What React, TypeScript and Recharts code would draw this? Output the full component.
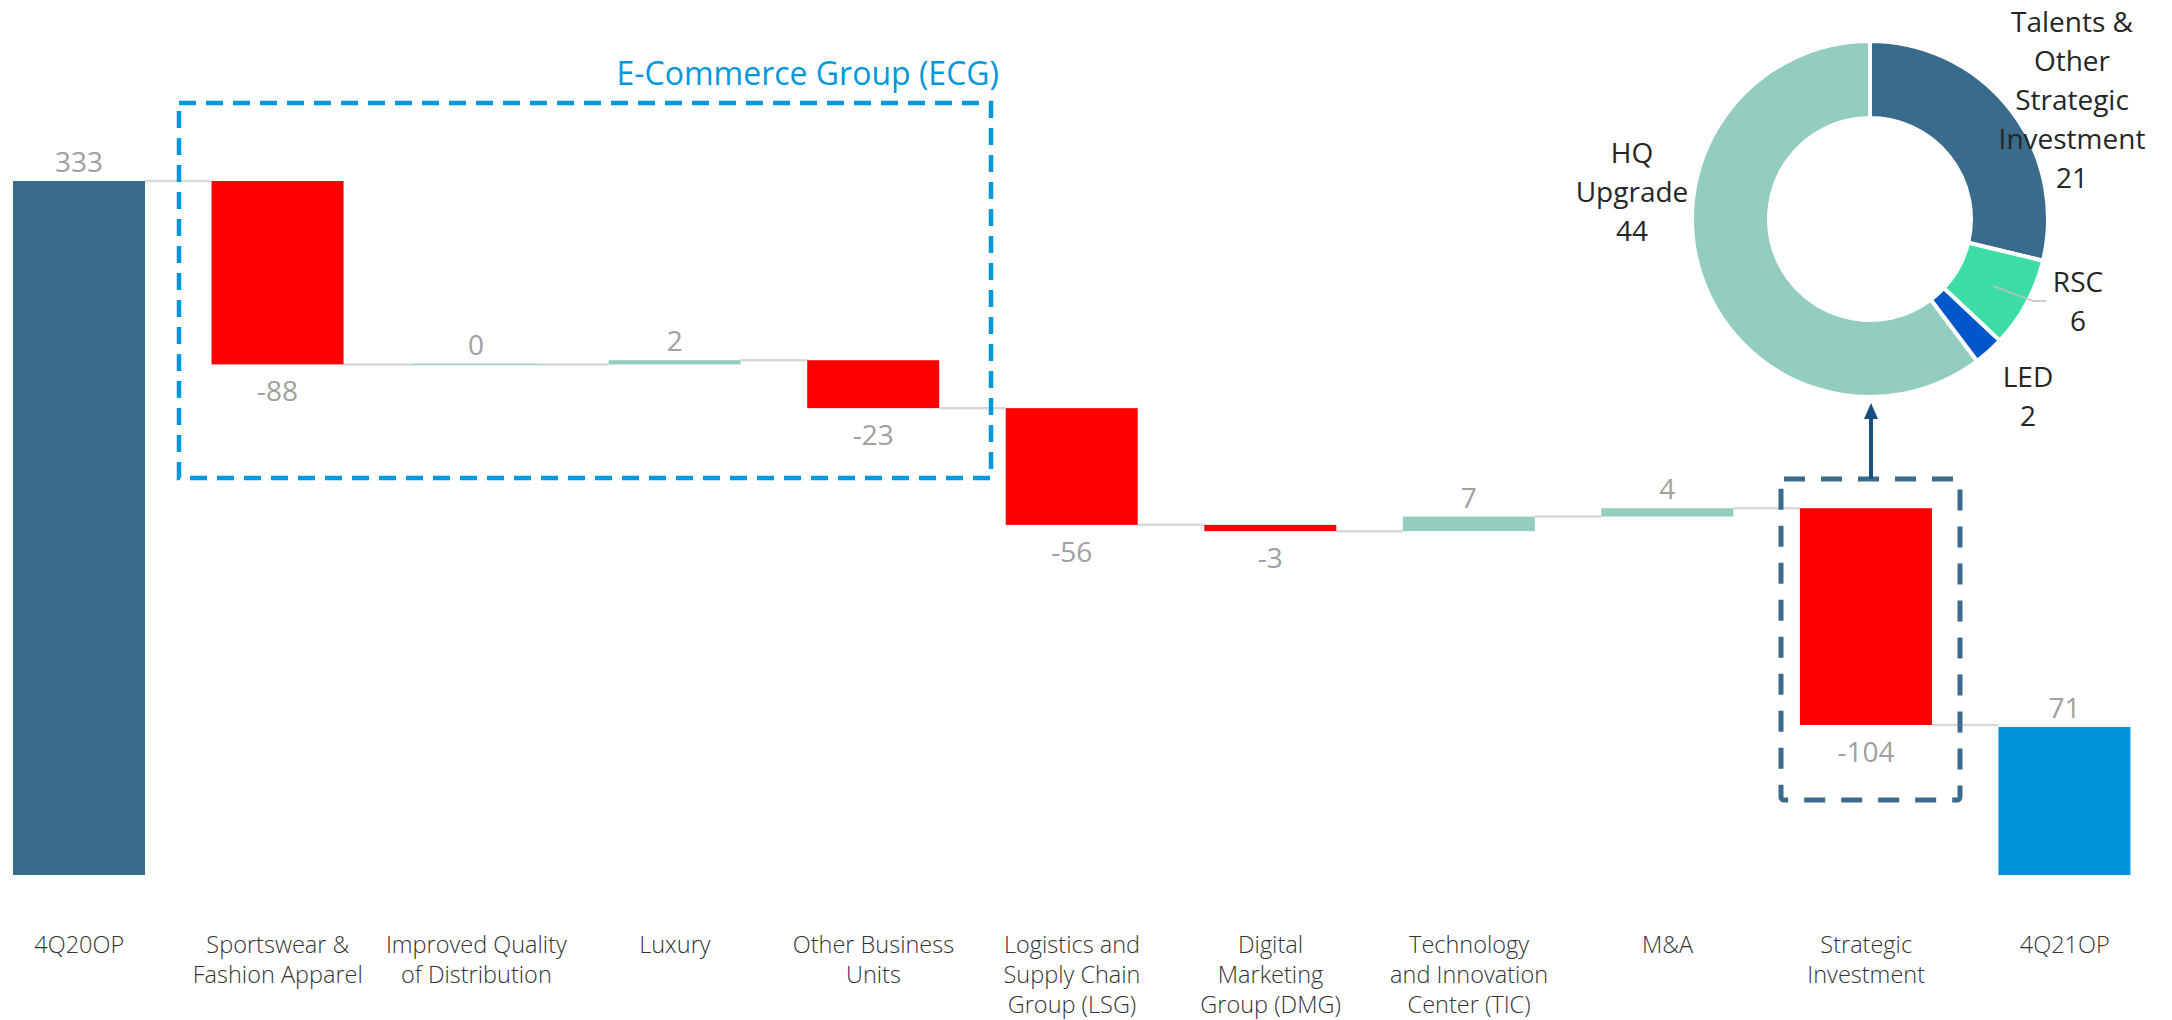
import React from "react";
import { ComposedChart, Bar, XAxis, YAxis, PieChart, Pie, Cell } from "recharts";

// ---------- data ----------
const categories = [
  "4Q20OP",
  "Sportswear &\nFashion Apparel",
  "Improved Quality\nof Distribution",
  "Luxury",
  "Other Business\nUnits",
  "Logistics and\nSupply Chain\nGroup (LSG)",
  "Digital\nMarketing\nGroup (DMG)",
  "Technology\nand Innovation\nCenter (TIC)",
  "M&A",
  "Strategic\nInvestment",
  "4Q21OP",
];
const values = [333, -88, 0, 2, -23, -56, -3, 7, 4, -104, 71];
const kinds = ["total", "delta", "delta", "delta", "delta", "delta", "delta", "delta", "delta", "delta", "total"];

const pieNames = ["Talents &\nOther\nStrategic\nInvestment", "RSC", "LED", "HQ\nUpgrade"];
const pieValues = [21, 6, 2, 44];

const ecgTitle = "E-Commerce Group (ECG)";

// ---------- styles / layout ----------
const FONT = "'Open Sans', 'Noto Sans', sans-serif";
const C_START = "#386B8C";
const C_END = "#0093D7";
const C_NEG = "#FF0000";
const C_POS = "#93CDBF";
const C_CONN = "#D9D9D9";
const C_VALUE = "#A0A0A0";
const pieColors = ["#386B8C", "#3DDDA6", "#0057C9", "#93CDBF"];

const CHART_W = 2184;
const CHART_H = 1020;
const BAR_SIZE = 132;
const BAND = CHART_W / categories.length;

// label anchor offsets from the donut centre [dx, first-baseline dy]
const pieLabelPos = [
  [202, -187],
  [208, 73],
  [158, 168],
  [-238, -56],
];

// ---------- derived table ----------
const waterfall = (() => {
  let running = 0;
  return categories.map((name, i) => {
    const v = values[i];
    let low: number, high: number;
    if (kinds[i] === "total") {
      low = 0;
      high = v;
      running = v;
    } else {
      const start = running;
      const end = running + v;
      low = Math.min(start, end);
      high = Math.max(start, end);
      running = end;
    }
    return { name, range: [low, high] };
  });
})();

const pieData = pieNames.map((name, i) => ({ name, value: pieValues[i] }));

// ---------- renderers ----------
function WaterfallShape(props: any) {
  const { x, y, width, height, index } = props;
  const v = values[index];
  const kind = kinds[index];
  const top = Math.min(y, y + height);
  const h = Math.abs(height);
  const fill = kind === "total" ? (index === 0 ? C_START : C_END) : v < 0 ? C_NEG : C_POS;
  const drawH = Math.max(h, 1.5);
  const drawY = h < 1.5 ? top - (1.5 - h) / 2 : top;
  const negative = kind === "delta" && v < 0;
  const endY = negative ? top + h : top;
  const labelY = negative ? top + h + 37 : top - 9;
  return (
    <g>
      {index < categories.length - 1 && (
        <line
          x1={x + width}
          x2={x + width + (BAND - width)}
          y1={endY}
          y2={endY}
          stroke={C_CONN}
          strokeWidth={2.5}
        />
      )}
      <rect x={x} y={drawY} width={width} height={drawH} fill={fill} />
      <text
        x={x + width / 2}
        y={labelY}
        textAnchor="middle"
        fontFamily={FONT}
        fontSize={28}
        fill={C_VALUE}
      >
        {String(v)}
      </text>
    </g>
  );
}

function CategoryTick(props: any) {
  const { x, y, payload } = props;
  const lines = String(payload.value).split("\n");
  return (
    <text
      x={x}
      y={y + 78}
      textAnchor="middle"
      fontFamily={FONT}
      fontSize={23.5}
      fontWeight={300}
      fill="#333333"
    >
      {lines.map((l, k) => (
        <tspan key={k} x={x} dy={k === 0 ? 0 : 30}>
          {l}
        </tspan>
      ))}
    </text>
  );
}

function PieLabel(props: any) {
  const { cx, cy, index } = props;
  const [dx, dy] = pieLabelPos[index];
  const lines = [...pieNames[index].split("\n"), String(pieValues[index])];
  const lx = cx + dx;
  return (
    <g>
      {index === 1 && (
        <polyline
          points={`${cx + 123},${cy + 67} ${cx + 163},${cy + 82} ${cx + 176},${cy + 82}`}
          fill="none"
          stroke="#BFBFBF"
          strokeWidth={1.5}
        />
      )}
      <text x={lx} y={cy + dy} textAnchor="middle" fontFamily={FONT} fontSize={28} fill="#262626">
        {lines.map((l, k) => (
          <tspan key={k} x={lx} dy={k === 0 ? 0 : 39}>
            {l}
          </tspan>
        ))}
      </text>
    </g>
  );
}

export default function App() {
  return (
    <div
      style={{
        position: "absolute",
        left: 0,
        top: 0,
        width: 2172,
        height: 1020,
        overflow: "hidden",
        background: "#ffffff",
        fontFamily: FONT,
      }}
    >
      <div style={{ position: "absolute", left: -20, top: 0 }}>
        <ComposedChart
          width={CHART_W}
          height={CHART_H}
          data={waterfall}
          margin={{ top: 181, right: 0, bottom: 0, left: 0 }}
        >
          <YAxis hide domain={[0, 333]} />
          <XAxis
            dataKey="name"
            interval={0}
            axisLine={false}
            tickLine={false}
            tickSize={0}
            tickMargin={0}
            height={145}
            tick={<CategoryTick />}
          />
          <Bar dataKey="range" barSize={BAR_SIZE} shape={<WaterfallShape />} isAnimationActive={false} />
        </ComposedChart>
      </div>

      <div style={{ position: "absolute", left: 1540, top: 0 }}>
        <PieChart width={632} height={460} margin={{ top: 0, right: 0, bottom: 0, left: 0 }}>
          <Pie
            data={pieData}
            dataKey="value"
            cx={330}
            cy={219}
            innerRadius={101}
            outerRadius={178}
            startAngle={90}
            endAngle={-270}
            stroke="#ffffff"
            strokeWidth={4}
            label={PieLabel}
            labelLine={false}
            isAnimationActive={false}
          >
            {pieData.map((d, i) => (
              <Cell key={d.name} fill={pieColors[i]} />
            ))}
          </Pie>
        </PieChart>
      </div>

      <svg
        width={2172}
        height={1020}
        style={{ position: "absolute", left: 0, top: 0, pointerEvents: "none" }}
      >
        <text x={999} y={85} textAnchor="end" fontFamily={FONT} fontSize={32} fill="#0097DC">
          {ecgTitle}
        </text>
        <rect
          x={179}
          y={103}
          width={812}
          height={375}
          fill="none"
          stroke="#0097DC"
          strokeWidth={4.5}
          strokeDasharray="17 10"
        />
        <rect
          x={1781}
          y={479}
          width={179}
          height={321}
          rx={3}
          fill="none"
          stroke="#3A6B8E"
          strokeWidth={5}
          strokeDasharray="21 16"
        />
        <line x1={1871} y1={479} x2={1871} y2={418} stroke="#174E7C" strokeWidth={4} />
        <polygon points="1871,403 1864,419 1878,419" fill="#174E7C" />
      </svg>
    </div>
  );
}
